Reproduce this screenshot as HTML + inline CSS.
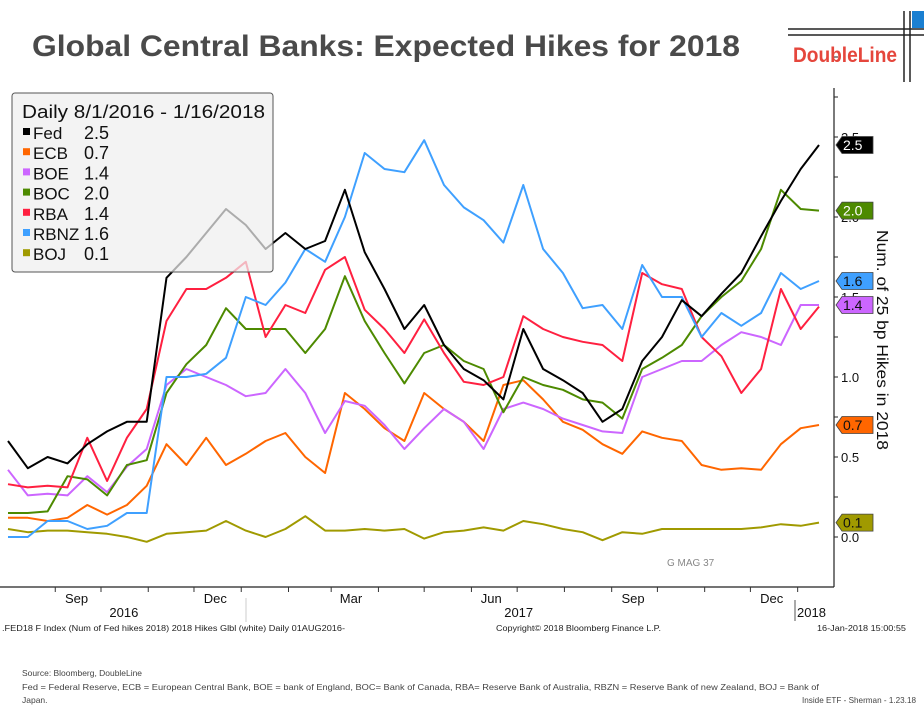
<!DOCTYPE html>
<html><head><meta charset="utf-8">
<style>
html,body{margin:0;padding:0;background:#fff;}
svg{display:block;font-family:"Liberation Sans",sans-serif;}
</style></head>
<body>
<svg id="chart" width="924" height="708" viewBox="0 0 924 708">
  <text x="32" y="56" font-size="30" font-weight="bold" fill="#4a4a4a" textLength="708" lengthAdjust="spacingAndGlyphs">Global Central Banks: Expected Hikes for 2018</text>
  <g>
    <line x1="788" y1="29" x2="924" y2="29" stroke="#222" stroke-width="1.5"/>
    <line x1="788" y1="35" x2="924" y2="35" stroke="#222" stroke-width="1.5"/>
    <line x1="904" y1="11" x2="904" y2="82" stroke="#222" stroke-width="1.5"/>
    <line x1="910" y1="11" x2="910" y2="82" stroke="#222" stroke-width="1.5"/>
    <rect x="912" y="11" width="12" height="17" fill="#1a7fd1"/>
    <text x="793" y="62" font-size="21" font-weight="bold" fill="#e5463c" textLength="104" lengthAdjust="spacingAndGlyphs">DoubleLine</text>
  </g>
  <g id="plot"></g>
  <g id="axes"></g>
  <g>
    <rect x="12" y="93" width="261" height="179" rx="3" fill="#efefef" fill-opacity="0.72" stroke="#555" stroke-width="1"/>
    <text x="22" y="118" font-size="18" fill="#111" textLength="243" lengthAdjust="spacingAndGlyphs">Daily 8/1/2016 - 1/16/2018</text>
    <g id="legendItems"></g>
  </g>
  <text transform="translate(877,340) rotate(90)" text-anchor="middle" font-size="16" fill="#111" textLength="220" lengthAdjust="spacingAndGlyphs">Num. of 25 bp Hikes in 2018</text>
  <text x="667" y="566" font-size="10" fill="#888">G MAG 37</text>
  <g font-size="8" fill="#222">
    <text x="2" y="631" textLength="343" lengthAdjust="spacingAndGlyphs">.FED18 F Index (Num of Fed hikes 2018) 2018 Hikes Glbl (white)  Daily 01AUG2016-</text>
    <text x="496" y="631" textLength="165" lengthAdjust="spacingAndGlyphs">Copyright© 2018 Bloomberg Finance L.P.</text>
    <text x="817" y="631" textLength="89" lengthAdjust="spacingAndGlyphs">16-Jan-2018 15:00:55</text>
  </g>
  <g font-size="8.5" fill="#444">
    <text x="22" y="676" textLength="120" lengthAdjust="spacingAndGlyphs">Source: Bloomberg, DoubleLine</text>
    <text x="22" y="690" textLength="797" lengthAdjust="spacingAndGlyphs">Fed = Federal Reserve, ECB = European Central Bank, BOE = bank of England, BOC= Bank of Canada, RBA= Reserve Bank of Australia, RBZN = Reserve Bank of new Zealand, BOJ = Bank of</text>
    <text x="22" y="703">Japan.</text>
    <text x="802" y="703" textLength="114" lengthAdjust="spacingAndGlyphs">Inside ETF - Sherman - 1.23.18</text>
  </g>
</svg>
<script>
const days = [0,13,26,39,52,65,78,91,104,117,130,143,156,169,182,195,208,221,234,247,260,273,286,299,312,325,338,351,364,377,390,403,416,429,442,455,468,481,494,507,520,532];
const fedValues = [0.6,0.43,0.5,0.46,0.58,0.66,0.72,0.72,1.62,1.75,1.9,2.05,1.95,1.8,1.9,1.8,1.85,2.17,1.78,1.55,1.3,1.45,1.2,1.05,0.98,0.86,1.3,1.05,0.98,0.9,0.72,0.8,1.1,1.25,1.48,1.38,1.52,1.65,1.88,2.1,2.3,2.45];
const ecbValues = [0.12,0.12,0.1,0.12,0.2,0.14,0.2,0.32,0.58,0.45,0.62,0.45,0.52,0.6,0.65,0.5,0.4,0.9,0.8,0.68,0.6,0.9,0.8,0.72,0.6,0.95,0.98,0.86,0.72,0.67,0.58,0.52,0.66,0.62,0.6,0.45,0.42,0.43,0.42,0.58,0.68,0.7];
const boeValues = [0.42,0.26,0.27,0.26,0.38,0.28,0.44,0.55,0.95,1.05,1.0,0.95,0.88,0.9,1.05,0.9,0.65,0.85,0.82,0.7,0.55,0.68,0.8,0.72,0.55,0.8,0.84,0.8,0.74,0.7,0.66,0.65,1.0,1.05,1.1,1.1,1.2,1.28,1.25,1.2,1.45,1.45];
const bocValues = [0.15,0.15,0.16,0.38,0.36,0.26,0.45,0.48,0.9,1.08,1.2,1.43,1.3,1.3,1.3,1.15,1.3,1.63,1.35,1.15,0.96,1.15,1.2,1.1,1.05,0.78,1.0,0.95,0.92,0.86,0.84,0.74,1.05,1.12,1.2,1.38,1.5,1.6,1.8,2.17,2.05,2.04];
const rbaValues = [0.33,0.31,0.32,0.31,0.62,0.35,0.62,0.8,1.35,1.55,1.55,1.62,1.72,1.25,1.45,1.4,1.67,1.75,1.42,1.3,1.15,1.36,1.15,0.97,0.95,1.0,1.38,1.3,1.25,1.22,1.2,1.1,1.65,1.58,1.55,1.25,1.13,0.9,1.05,1.55,1.3,1.44];
const rbnzValues = [0.0,0.0,0.1,0.1,0.05,0.07,0.15,0.15,1.0,1.0,1.02,1.12,1.5,1.45,1.59,1.8,1.72,2.0,2.4,2.3,2.28,2.48,2.2,2.06,1.98,1.84,2.2,1.8,1.65,1.43,1.45,1.3,1.7,1.5,1.5,1.25,1.4,1.32,1.4,1.65,1.55,1.6];
const bojValues = [0.05,0.03,0.04,0.04,0.03,0.02,0.0,-0.03,0.02,0.03,0.04,0.1,0.04,0.0,0.05,0.13,0.04,0.04,0.05,0.04,0.05,-0.01,0.03,0.04,0.06,0.04,0.1,0.08,0.05,0.03,-0.02,0.03,0.02,0.05,0.05,0.05,0.05,0.05,0.06,0.08,0.07,0.09];
const seriesNames = ["Fed","ECB","BOE","BOC","RBA","RBNZ","BOJ"];
const lastLabels = ["2.5","0.7","1.4","2.0","1.4","1.6","0.1"];
const yTickValues = [0,0.5,1.0,1.5,2.0,2.5];
const yTickLabels = ["0.0","0.5","1.0","1.5","2.0","2.5"];
const monthStartDays = [31,61,92,122,153,184,212,243,273,304,334,365,396,426,457,487,518];
const monthLabels = ["Sep","Dec","Mar","Jun","Sep","Dec"];
const monthLabelDays = [45,136,225,317,410,501];
const yearLabels = ["2016","2017","2018"];
const yearLabelDays = [76,335,532];

const colors = ["#000000","#ff6600","#cc66ff","#4d8a00","#ff2040","#3fa0ff","#a09a00"];
const allValues = [fedValues,ecbValues,boeValues,bocValues,rbaValues,rbnzValues,bojValues];
const NS = "http://www.w3.org/2000/svg";
const xScale = d => 8 + d * (811 / 532);
const yScale = v => 537 - v * 160;
function mk(tag, attrs, parent){const e=document.createElementNS(NS,tag);for(const k in attrs)e.setAttribute(k,attrs[k]);parent.appendChild(e);return e;}

const plot = document.getElementById("plot");
const drawOrder = [6,1,2,3,4,5,0];
drawOrder.forEach(si => {
  const vals = allValues[si];
  const pts = vals.map((v,i)=>xScale(days[i]).toFixed(1)+","+yScale(v).toFixed(1)).join(" ");
  const pl = mk("polyline",{points:pts,fill:"none",stroke:colors[si],"stroke-width":2,"stroke-linejoin":"round"},plot);
  
  
});

const axes = document.getElementById("axes");
mk("line",{x1:834,y1:88,x2:834,y2:587,stroke:"#222","stroke-width":1.2},axes);
mk("line",{x1:0,y1:587,x2:834,y2:587,stroke:"#222","stroke-width":1.2},axes);
for(let v=0; v<=3.0001; v+=0.25){
  mk("line",{x1:834,y1:yScale(v),x2:838,y2:yScale(v),stroke:"#222"},axes);
}
yTickValues.forEach((v,i)=>{
  const t = mk("text",{x:841,y:yScale(v)+5,"font-size":13,fill:"#111"},axes);
  t.textContent = yTickLabels[i];
  
  
});
monthStartDays.forEach(d=>{
  mk("line",{x1:xScale(d),y1:587,x2:xScale(d),y2:592,stroke:"#333"},axes);
});
monthLabels.forEach((m,i)=>{
  const t = mk("text",{x:xScale(monthLabelDays[i]),y:603,"font-size":13,"text-anchor":"middle",fill:"#111"},axes);
  t.textContent = m;
  
  
});
mk("line",{x1:246,y1:598,x2:246,y2:622,stroke:"#ccc"},axes);
mk("line",{x1:795,y1:600,x2:795,y2:621,stroke:"#555"},axes);
yearLabels.forEach((y,i)=>{
  const last = i===yearLabels.length-1;
  const t = mk("text",{x:last?797:xScale(yearLabelDays[i]),y:617,"font-size":13,"text-anchor":last?"start":"middle",fill:"#111"},axes);
  t.textContent = y;
  
  
});

const tagOrder=[0,3,5,2,1,6];
const tagYs = {};
tagOrder.forEach(si=>{tagYs[si]=yScale(allValues[si][allValues[si].length-1]);});
if(Math.abs(tagYs[5]-tagYs[2])<18){ tagYs[2]=tagYs[5]+18; }
tagOrder.forEach(si=>{
  const cy = tagYs[si];
  const g = mk("g",{},axes);
  
  
  mk("polygon",{points:`836,${cy} 842,${cy-8.5} 873,${cy-8.5} 873,${cy+8.5} 842,${cy+8.5}`,fill:colors[si],stroke:"#444","stroke-width":0.8},g);
  const t = mk("text",{x:843,y:cy+5,"font-size":14,fill:(si===0||si===3)?"#fff":"#111"},g);
  t.textContent = lastLabels[si];
});

const li = document.getElementById("legendItems");
seriesNames.forEach((n,i)=>{
  const yy = 139 + i*20.2;
  const g = mk("g",{},li);
  
  
  mk("rect",{x:23,y:yy-11,width:7,height:7,fill:colors[i]},g);
  const t1 = mk("text",{x:33,y:yy,"font-size":17,fill:"#111"},g); t1.textContent=n;
  const t2 = mk("text",{x:84,y:yy,"font-size":18,fill:"#111"},g); t2.textContent=lastLabels[i];
});
</script>
</body></html>
